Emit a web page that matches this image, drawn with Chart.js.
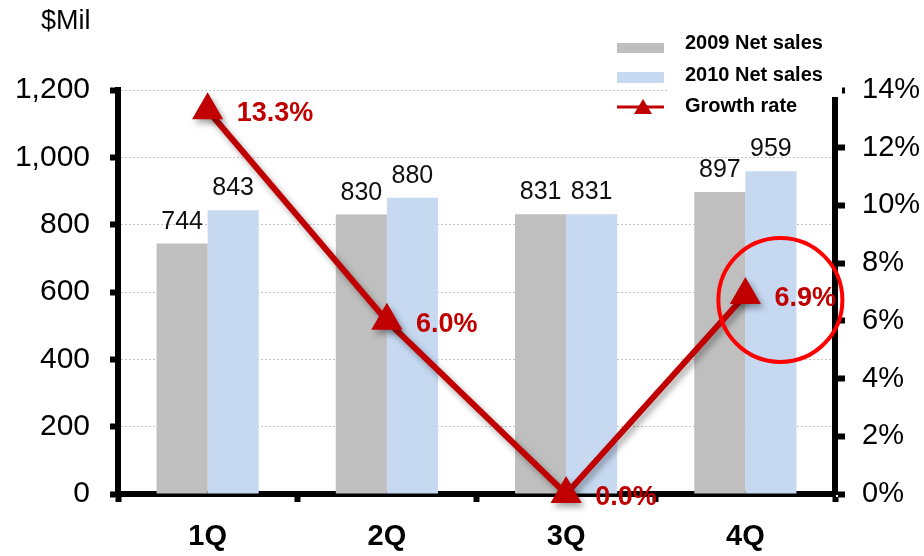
<!DOCTYPE html>
<html>
<head>
<meta charset="utf-8">
<script src="https://cdn.jsdelivr.net/npm/chart.js@4.4.1/dist/chart.umd.min.js"></script>
<style>
  html, body { margin: 0; padding: 0; background: #fff; }
  #wrap { width: 924px; height: 556px; }
</style>
</head>
<body>
<div id="wrap"><canvas id="salesChart" width="924" height="556"></canvas></div>
<script>
// Quarterly net sales 2009 vs 2010 with growth rate
const quarters = ['1Q', '2Q', '3Q', '4Q'];
const sales2009 = [744, 830, 831, 897];
const sales2010 = [843, 880, 831, 959];
const growthRate = [13.3, 6.0, 0.0, 6.9];
const seriesNames = ['2009 Net sales', '2010 Net sales', 'Growth rate'];
const highlightIndex = 3;   // circled point

const FONT = '"Liberation Sans", Arial, sans-serif';
Chart.defaults.font.family = FONT;
Chart.defaults.color = '#000';

const fmtThousands = v => String(v).replace(/\B(?=(\d{3})+(?!\d))/g, ',');

// Drop shadow under the growth line
const shadowPlugin = {
    id: 'lineShadow',
    beforeDatasetDraw(chart, args) {
        if (args.index !== 2) return;
        const ctx = chart.ctx;
        ctx.save();
        ctx.shadowColor = 'rgba(0,0,0,0.35)';
        ctx.shadowBlur = 6;
        ctx.shadowOffsetX = 3;
        ctx.shadowOffsetY = 4;
    },
    afterDatasetDraw(chart, args) {
        if (args.index !== 2) return;
        chart.ctx.restore();
    }
};

// Value labels, growth labels, circle and legend
const annotatePlugin = {
    id: 'annotate',
    afterDraw(chart) {
        const ctx = chart.ctx;
        const ds = chart.data.datasets;
        ctx.save();

        // bar values
        ctx.font = '25px ' + FONT;
        ctx.fillStyle = '#111';
        ctx.textAlign = 'center';
        ctx.textBaseline = 'alphabetic';
        [0, 1].forEach(di => {
            chart.getDatasetMeta(di).data.forEach((bar, i) => {
                ctx.fillText(String(ds[di].data[i]), bar.x, bar.y - 15);
            });
        });

        // growth labels
        ctx.font = 'bold 27px ' + FONT;
        ctx.fillStyle = '#C00000';
        ctx.textAlign = 'left';
        const lineMeta = chart.getDatasetMeta(2);
        lineMeta.data.forEach((pt, i) => {
            ctx.fillText(ds[2].data[i].toFixed(1) + '%', pt.x + 29, pt.y + 11);
        });

        // highlight circle
        const hp = lineMeta.data[highlightIndex];
        ctx.beginPath();
        ctx.arc(hp.x + 35, hp.y + 5, 62, 0, Math.PI * 2);
        ctx.lineWidth = 4;
        ctx.strokeStyle = '#FF0000';
        ctx.stroke();

        // legend box (white, hides top of right axis like the original)
        ctx.fillStyle = '#fff';
        ctx.fillRect(668, 26, 174, 71);
        ctx.fillStyle = ds[0].backgroundColor;
        ctx.fillRect(617, 43, 47, 10);
        ctx.fillStyle = ds[1].backgroundColor;
        ctx.fillRect(617, 72, 47, 11);
        ctx.strokeStyle = ds[2].borderColor;
        ctx.lineWidth = 3;
        ctx.beginPath();
        ctx.moveTo(617, 107);
        ctx.lineTo(664, 107);
        ctx.stroke();
        ctx.fillStyle = ds[2].borderColor;
        ctx.beginPath();
        ctx.moveTo(643, 99);
        ctx.lineTo(652, 114);
        ctx.lineTo(634, 114);
        ctx.closePath();
        ctx.fill();

        ctx.font = 'bold 20px ' + FONT;
        ctx.fillStyle = '#000';
        ctx.textAlign = 'left';
        ctx.textBaseline = 'middle';
        ctx.fillText(seriesNames[0], 685, 43);
        ctx.fillText(seriesNames[1], 685, 75);
        ctx.fillText(seriesNames[2], 685, 106);

        // unit label
        ctx.font = '27px ' + FONT;
        ctx.fillText('$Mil', 41, 22);
        ctx.restore();
    }
};

new Chart(document.getElementById('salesChart'), {
    type: 'bar',
    data: {
        labels: quarters,
        datasets: [{
            label: seriesNames[0],
            data: sales2009,
            backgroundColor: '#BFBFBF',
            categoryPercentage: 0.57,
            barPercentage: 1,
            order: 2,
            yAxisID: 'y'
        }, {
            label: seriesNames[1],
            data: sales2010,
            backgroundColor: '#C6D9F1',
            categoryPercentage: 0.57,
            barPercentage: 1,
            order: 2,
            yAxisID: 'y'
        }, {
            type: 'line',
            label: seriesNames[2],
            data: growthRate,
            borderColor: '#C00000',
            backgroundColor: '#C00000',
            borderWidth: 6,
            pointStyle: 'triangle',
            pointRadius: 18,
            pointBorderWidth: 0,
            pointBackgroundColor: '#C00000',
            tension: 0,
            clip: false,
            order: 0,
            yAxisID: 'y1'
        }]
    },
    options: {
        responsive: false,
        animation: false,
        devicePixelRatio: 1,
        layout: { padding: { top: 90, left: 0, right: 0, bottom: 0 } },
        plugins: {
            legend: { display: false },
            tooltip: { enabled: false }
        },
        scales: {
            x: {
                offset: true,
                afterFit: s => { s.height = 62; },
                grid: {
                    offset: true,
                    drawOnChartArea: false,
                    drawTicks: true,
                    tickLength: 8,
                    tickWidth: 6,
                    tickColor: '#000'
                },
                border: { color: '#000', width: 6 },
                ticks: {
                    padding: 18,
                    font: { size: 29, weight: 'bold' },
                    color: '#000'
                }
            },
            y: {
                position: 'left',
                min: 0,
                max: 1200,
                afterFit: s => { s.width = 118; },
                grid: {
                    color: '#c4c4c4',
                    lineWidth: 1,
                    tickLength: 8,
                    tickWidth: 6,
                    tickColor: '#000'
                },
                border: { color: '#000', width: 6, dash: [2, 2] },
                ticks: {
                    stepSize: 200,
                    padding: 20,
                    font: { size: 30 },
                    color: '#000',
                    callback: v => fmtThousands(v)
                }
            },
            y1: {
                position: 'right',
                min: 0,
                max: 14,
                afterFit: s => { s.width = 89; },
                grid: {
                    drawOnChartArea: false,
                    tickLength: 10,
                    tickWidth: 6,
                    tickColor: '#000'
                },
                border: { color: '#000', width: 6 },
                ticks: {
                    stepSize: 2,
                    padding: 17,
                    font: { size: 29 },
                    color: '#000',
                    callback: v => v + '%'
                }
            }
        }
    },
    plugins: [shadowPlugin, annotatePlugin]
});
</script>
</body>
</html>
